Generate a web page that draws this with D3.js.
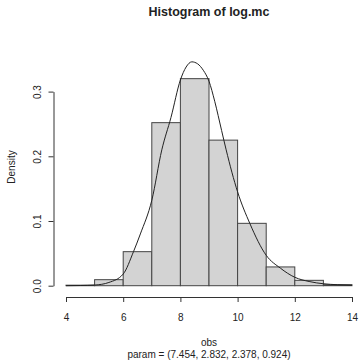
<!DOCTYPE html>
<html>
<head>
<meta charset="utf-8">
<script src="https://cdn.jsdelivr.net/npm/d3@7"></script>
<style>
  body { margin: 0; background: #fff; }
  text { font-family: "Liberation Sans", Arial, sans-serif; fill: #222; }
</style>
</head>
<body>
<div id="hist"></div>
<script>
// histogram bins (density)
var binStart = [4, 5, 6, 7, 8, 9, 10, 11, 12, 13];
var binEnd = [5, 6, 7, 8, 9, 10, 11, 12, 13, 14];
var density = [0.0008, 0.0093, 0.0526, 0.252, 0.320, 0.225, 0.0964, 0.029, 0.0083, 0.0015];

// fitted density curve, sampled by eye
var curveX = [4.0, 4.5, 5.0, 5.5, 6.0, 6.36, 6.6, 7.0, 7.35, 7.67, 8.0, 8.2, 8.4, 8.6, 8.8, 9.0, 9.2, 9.44, 9.6, 10.0, 10.43, 11.0, 11.5, 12.0, 12.5, 13.0, 13.5, 14.0];
var curveY = [0.0, 0.0003, 0.001, 0.005, 0.018, 0.0526, 0.08, 0.132, 0.21, 0.26, 0.318, 0.338, 0.346, 0.343, 0.333, 0.316, 0.285, 0.24, 0.21, 0.145, 0.096, 0.047, 0.027, 0.013, 0.0065, 0.003, 0.0015, 0.0008];

var xTicks = [4, 6, 8, 10, 12, 14];
var yTicks = [0, 0.1, 0.2, 0.3];

var svgWidth = 360;
var svgHeight = 363;

var svg = d3.select("#hist")
  .append("svg")
  .attr("width", svgWidth)
  .attr("height", svgHeight);

var xScale = d3.scaleLinear().domain([4, 14]).range([66, 352]);
var yScale = d3.scaleLinear().domain([0, 0.3]).range([285.7, 91.6]);

var bins = binStart.map((s, i) => ({ lo: s, hi: binEnd[i], d: density[i] }));

svg.selectAll(".bar")
  .data(bins)
  .enter()
  .append("rect")
  .attr("class", "bar")
  .attr("x", d => xScale(d.lo))
  .attr("y", d => yScale(d.d))
  .attr("width", d => xScale(d.hi) - xScale(d.lo))
  .attr("height", d => yScale(0) - yScale(d.d))
  .attr("fill", "#d3d3d3")
  .attr("stroke", "#444")
  .attr("stroke-width", 1);

var line = d3.line()
  .x((d, i) => xScale(curveX[i]))
  .y(d => yScale(d))
  .curve(d3.curveMonotoneX);

svg.append("path")
  .datum(curveY)
  .attr("d", line)
  .attr("fill", "none")
  .attr("stroke", "#222")
  .attr("stroke-width", 1);

// axes
var bottomAxis = d3.axisBottom(xScale).tickValues(xTicks).tickSize(5).tickSizeOuter(0);
var leftAxis = d3.axisLeft(yScale).tickValues(yTicks).tickFormat(d3.format(".1f")).tickSize(5).tickSizeOuter(0);

var xg = svg.append("g")
  .attr("transform", "translate(0, 297)")
  .style("color", "#333")
  .call(bottomAxis);
xg.selectAll("text")
  .attr("y", 17)
  .attr("dy", "0.71em")
  .style("font-size", "10px")
  .style("font-family", "Liberation Sans, Arial, sans-serif");

var yg = svg.append("g")
  .attr("transform", "translate(53.5, 0)")
  .style("color", "#333")
  .call(leftAxis);
yg.selectAll("text")
  .attr("transform", "rotate(-90)")
  .attr("x", 0)
  .attr("y", -13)
  .attr("dy", 0)
  .style("text-anchor", "middle")
  .style("font-size", "10px")
  .style("font-family", "Liberation Sans, Arial, sans-serif");

// titles
svg.append("text")
  .attr("x", 209)
  .attr("y", 16)
  .attr("text-anchor", "middle")
  .style("font-size", "12.5px")
  .style("font-weight", "bold")
  .text("Histogram of log.mc");

svg.append("text")
  .attr("transform", "translate(15, 167) rotate(-90)")
  .attr("text-anchor", "middle")
  .style("font-size", "10px")
  .text("Density");

svg.append("text")
  .attr("x", 209)
  .attr("y", 346)
  .attr("text-anchor", "middle")
  .style("font-size", "10px")
  .text("obs");

svg.append("text")
  .attr("x", 209)
  .attr("y", 357.5)
  .attr("text-anchor", "middle")
  .style("font-size", "10px")
  .text("param = (7.454, 2.832, 2.378, 0.924)");
</script>
</body>
</html>
